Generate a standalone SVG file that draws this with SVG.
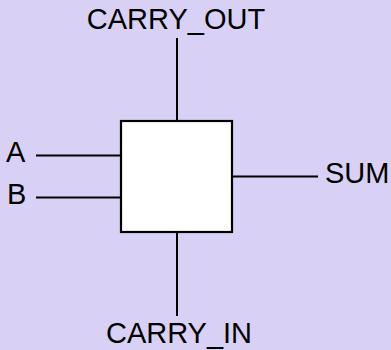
<svg xmlns="http://www.w3.org/2000/svg" width="391" height="350" viewBox="0 0 391 350">
<style>
.lbl{font-family:"Liberation Sans",Arial,sans-serif;font-size:29px;fill:#000}
.w{stroke:#000;stroke-width:2;fill:none}
</style>
<rect x="0" y="0" width="391" height="350" fill="#D8D1F5"/>
<g id="connectors">
<line class="w" x1="177" y1="38" x2="177" y2="121"/>
<line class="w" x1="177" y1="232" x2="177" y2="316"/>
<line class="w" x1="36" y1="155.5" x2="120" y2="155.5"/>
<line class="w" x1="36" y1="197.5" x2="120" y2="197.5"/>
<line class="w" x1="232" y1="176.5" x2="318" y2="176.5"/>
</g>
<g id="adder">
<rect x="121" y="121" width="111" height="111" fill="#fff" stroke="#000" stroke-width="2.2"/>
</g>
<g id="carry_out"><text class="lbl" x="176" y="29" text-anchor="middle">CARRY_OUT</text></g>
<g id="carry_in"><text class="lbl" x="179" y="343" text-anchor="middle">CARRY_IN</text></g>
<g id="a"><text class="lbl" x="6" y="162">A</text></g>
<g id="b"><text class="lbl" x="7" y="204">B</text></g>
<g id="sum"><text class="lbl" x="325" y="183">SUM</text></g>
</svg>
